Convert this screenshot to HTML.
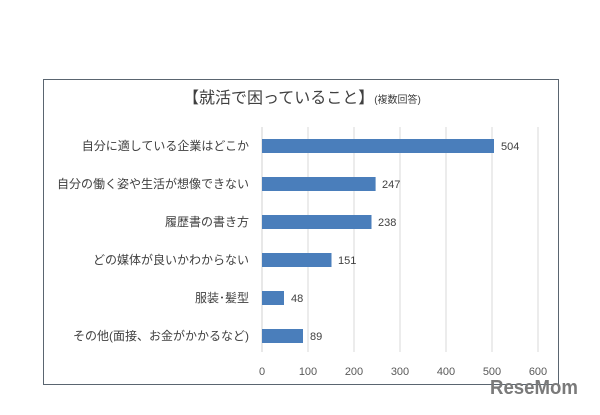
<!DOCTYPE html><html><head><meta charset="utf-8"><style>body{margin:0;background:#fff;width:600px;height:410px;overflow:hidden}</style></head><body>
<svg width="600" height="410" xmlns="http://www.w3.org/2000/svg" font-family="'Liberation Sans','Noto Sans CJK JP',sans-serif">
<rect x="43.5" y="79.5" width="515" height="305" fill="#fff" stroke="#5a6570" stroke-width="1"/>
<text x="183" y="103" font-size="16" fill="#404040">【就活で困っていること】<tspan font-size="10">(複数回答)</tspan></text>
<g stroke="#d9d9d9" stroke-width="1">
<line x1="308" y1="127" x2="308" y2="352"/><line x1="354" y1="127" x2="354" y2="352"/><line x1="400" y1="127" x2="400" y2="352"/><line x1="446" y1="127" x2="446" y2="352"/><line x1="492" y1="127" x2="492" y2="352"/><line x1="538" y1="127" x2="538" y2="352"/></g>
<line x1="262" y1="127" x2="262" y2="352" stroke="#d0d0d0"/>
<g fill="#4a7ebb">
<rect x="262" y="139" width="232" height="14"/><rect x="262" y="177" width="113.6" height="14"/><rect x="262" y="215" width="109.5" height="14"/><rect x="262" y="253" width="69.5" height="14"/><rect x="262" y="291" width="22" height="14"/><rect x="262" y="329" width="41" height="14"/></g>
<g font-size="11" fill="#404040">
<text x="501" y="150">504</text><text x="382" y="188">247</text><text x="378" y="226">238</text><text x="338" y="264">151</text><text x="291" y="302">48</text><text x="310" y="340">89</text></g>
<g font-size="12" fill="#404040" text-anchor="end">
<text x="249" y="150">自分に適している企業はどこか</text>
<text x="249" y="188">自分の働く姿や生活が想像できない</text>
<text x="249" y="226">履歴書の書き方</text>
<text x="249" y="264">どの媒体が良いかわからない</text>
<text x="249" y="302">服装･髪型</text>
<text x="249" y="340">その他(面接、お金がかかるなど)</text></g>
<g font-size="11" fill="#595959" text-anchor="middle">
<text x="262" y="375">0</text><text x="308" y="375">100</text><text x="354" y="375">200</text><text x="400" y="375">300</text><text x="446" y="375">400</text><text x="492" y="375">500</text><text x="538" y="375">600</text></g>
<text x="490" y="394" font-size="20" font-weight="bold" fill="#7a7a7a" textLength="88" lengthAdjust="spacingAndGlyphs">ReseMom</text>
</svg></body></html>
